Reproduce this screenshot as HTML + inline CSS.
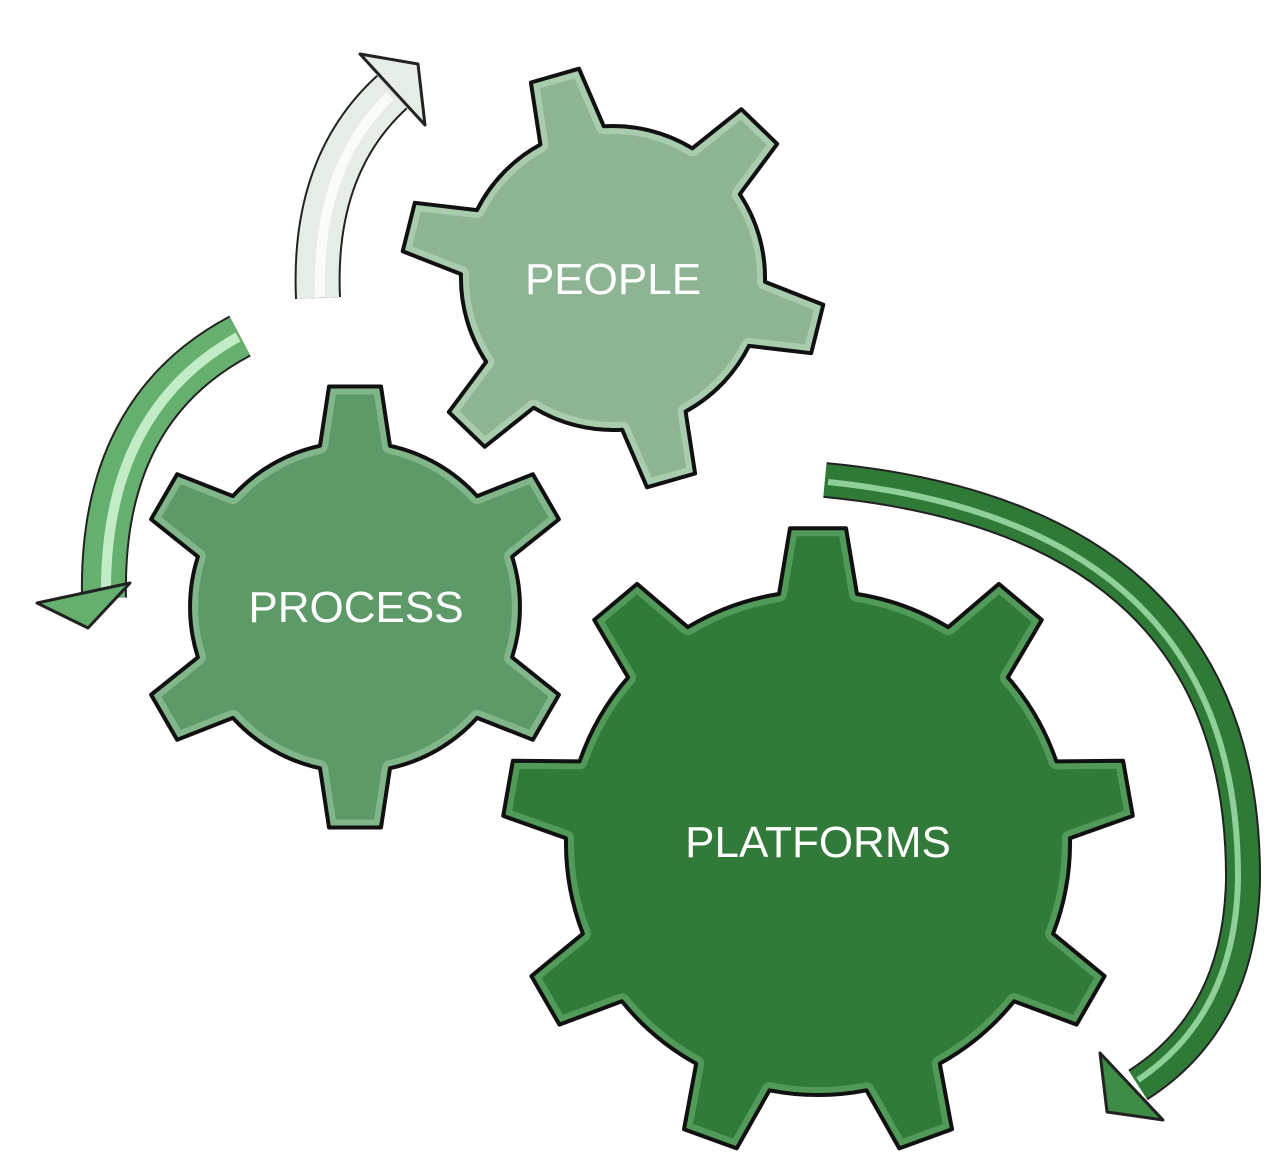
<!DOCTYPE html>
<html><head><meta charset="utf-8"><style>
html,body{margin:0;padding:0;background:#fff;width:1280px;height:1172px;overflow:hidden}
svg{display:block}
text{font-family:"Liberation Sans",sans-serif;fill:#fff}
</style></head><body>
<svg id="s" width="1280" height="1172" viewBox="0 0 1280 1172" xmlns="http://www.w3.org/2000/svg">
<defs id="defs"></defs>
<path d="M318 298 Q312 165 392 92" fill="none" stroke="#222" stroke-width="46"/>
<path d="M318 298 Q312 165 392 92" fill="none" stroke="#e6ede7" stroke-width="42"/>
<path d="M320 297 Q316 168 390 96" fill="none" stroke="#f8fbf8" stroke-width="10"/>
<polygon points="360,54 418,64 425,125" fill="#e6ede7" stroke="#222" stroke-width="3" stroke-linejoin="round"/>

<path d="M240 336 Q100 410 104 598" fill="none" stroke="#222" stroke-width="46"/>
<path d="M240 336 Q100 410 104 598" fill="none" stroke="#66b06f" stroke-width="42"/>
<path d="M238 337 Q104 412 106 596" fill="none" stroke="#c2ecc6" stroke-width="10"/>
<polygon points="37,603 130,583 88,628" fill="#66b06f" stroke="#222" stroke-width="3" stroke-linejoin="round"/>

<path d="M825 480 Q1245 520 1243 880 Q1240 1020 1138 1085" fill="none" stroke="#222" stroke-width="36"/>
<path d="M825 480 Q1245 520 1243 880 Q1240 1020 1138 1085" fill="none" stroke="#2f7a37" stroke-width="32"/>
<path d="M828 482 Q1240 525 1238 880 Q1235 1015 1138 1080" fill="none" stroke="#8fd098" stroke-width="6"/>
<polygon points="1100,1053 1107,1112 1163,1120" fill="#3e8c46" stroke="#222" stroke-width="3" stroke-linejoin="round"/>
<g id="gears"></g>
<text x="613" y="294" font-size="44" text-anchor="middle">PEOPLE</text>
<text x="356" y="622" font-size="44" text-anchor="middle">PROCESS</text>
<text x="818" y="857" font-size="44" text-anchor="middle">PLATFORMS</text>
</svg>
<script>
var defs="";
function gear(id,cx,cy,rb,ro,n,a0,wb,wt,fill,hl){
 var hb=Math.asin(wb/2/rb),ht=Math.asin(wt/2/ro),d="";
 function p(r,a){return (cx+r*Math.cos(a)).toFixed(1)+" "+(cy+r*Math.sin(a)).toFixed(1);}
 for(var k=0;k<n;k++){
  var a=(a0+360*k/n)*Math.PI/180;
  d+=(k==0?"M":"L")+p(rb,a-hb)+" L"+p(ro,a-ht)+" L"+p(ro,a+ht)+" L"+p(rb,a+hb)+" ";
  var an=(a0+360*(k+1)/n)*Math.PI/180;
  d+="A"+rb+" "+rb+" 0 0 1 "+p(rb,an-hb)+" ";
 }
 d+="Z";
 defs+='<clipPath id="'+id+'"><path d="'+d+'"/></clipPath>';
 return '<path d="'+d+'" fill="'+fill+'"/>'+
 '<path d="'+d+'" fill="none" stroke="'+hl+'" stroke-width="16" stroke-opacity="0.35" clip-path="url(#'+id+')" stroke-linejoin="round"/>'+
 '<path d="'+d+'" fill="none" stroke="#111" stroke-width="4" stroke-linejoin="round"/>';
}
var g=gear("c1",613,278,152,212,6,14,66,50,"#8db594","#e0f5e3")+
 gear("c2",355,607,165,222,6,-90,70,52,"#5e9a67","#c4ebca")+
 gear("c3",818,843,252,316,9,-90,78,56,"#317a3a","#8fd698");
document.getElementById("defs").innerHTML=defs;
document.getElementById("gears").innerHTML=g;
</script>
</body></html>
